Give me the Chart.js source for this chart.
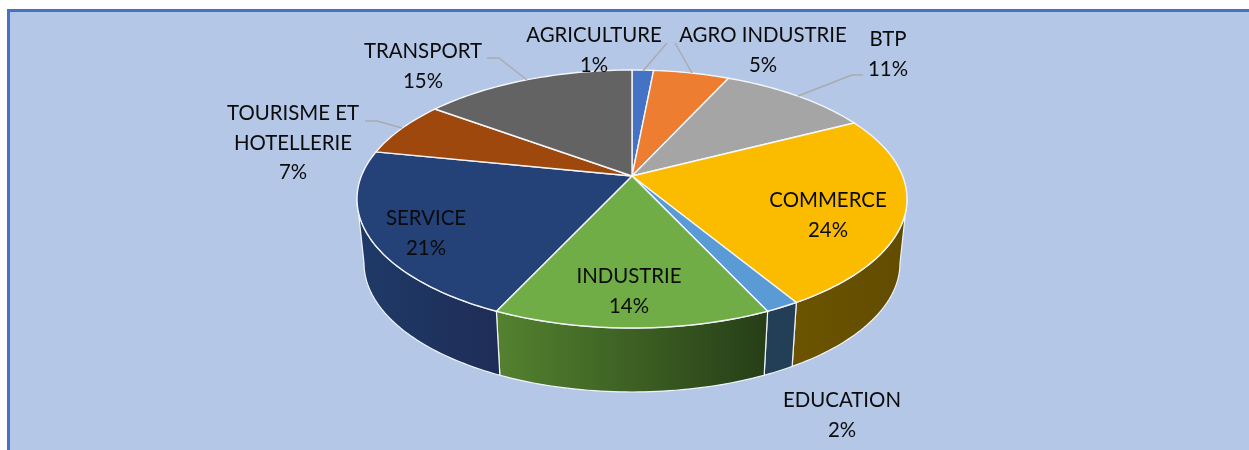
<!DOCTYPE html>
<html>
<head>
<meta charset="utf-8">
<style>
html,body{margin:0;padding:0;background:#fff;width:1249px;height:450px;overflow:hidden}
#frame{position:absolute;left:7px;top:9px;width:1242px;height:441px;box-sizing:border-box;background:#b4c7e7;border-left:3px solid #4472c4;border-top:3px solid #4472c4}
canvas{position:absolute;left:0;top:0}
</style>
<script src="https://cdn.jsdelivr.net/npm/chart.js@4"></script>
</head>
<body>
<div id="frame"></div>
<canvas id="c" width="1249" height="450"></canvas>
<script>
const categories = ['AGRICULTURE','AGRO INDUSTRIE','BTP','COMMERCE','EDUCATION','INDUSTRIE','SERVICE','TOURISME ET\nHOTELLERIE','TRANSPORT'];
const sliceValues = [1.5,5.3,10.6,24,1.7,13.8,21.3,6.9,14.9];
const shownPercents = [1,5,11,24,2,14,21,7,15];

const topColors = ['#4472c4','#ed7d31','#a5a5a5','#fbbc00','#5b9bd5','#70ad47','#244178','#9e480e','#636363'];
const wallFrom  = ['#2f5090','#a8571f','#737373','#6b5300','#233f57','#54822f','#1f3a68','#6e320a','#454545'];
const wallTo    = ['#2f5090','#a8571f','#737373','#624c00','#233f57','#263e17','#1e2d57','#6e320a','#454545'];

// label centres, one per category
const labelX = [594,763,888,828,842,629,426,293,423];
const labelY = [35.5,35.5,39.5,200.5,400.5,276.5,218.5,113.5,51.5];
const leaders = [
  [[667,43],[643,71]],
  [[675,43],[692,73]],
  [[863,75],[852,75],[798,96]],
  null,null,null,null,
  [[365,121],[377,121],[402,128]],
  [[487,58],[499,58],[527,80]]
];

// view of the tilted disc
const ASPECT = 275/129, APEX = -23/129, DEPTH = 64, BOTTOM_RX = 268;
const K = Math.sqrt(1-APEX*APEX);
const FRONT_FROM = Math.asin(-APEX), FRONT_TO = Math.PI-FRONT_FROM;
function project(angle, cx, cy, rx, ry){
  const a = Math.cos(angle), b = Math.sin(angle), d = 1 + b*APEX;
  return [cx + rx*a*K/d, cy + ry*(b+APEX)/d];
}
function rimPath(ctx, from, to, cx, cy, rx, ry, move){
  const n = Math.max(2, Math.ceil(Math.abs(to-from)/0.02));
  for(let i=0;i<=n;i++){
    const p = project(from+(to-from)*i/n, cx, cy, rx, ry);
    if(i===0 && move) ctx.moveTo(p[0],p[1]); else ctx.lineTo(p[0],p[1]);
  }
}

// every slice keeps the angles the pie controller computed; it is only seen in perspective
Chart.ArcElement.prototype.draw = function(ctx){
  const {x,y,startAngle,endAngle,outerRadius} = this.getProps(['x','y','startAngle','endAngle','outerRadius']);
  const rx = outerRadius*ASPECT;
  const apex = [x, y + outerRadius*APEX];
  ctx.save();
  ctx.beginPath();
  ctx.moveTo(apex[0],apex[1]);
  rimPath(ctx,startAngle,endAngle,x,y,rx,outerRadius,false);
  ctx.closePath();
  ctx.fillStyle = this.options.backgroundColor;
  ctx.fill();
  ctx.lineJoin = 'round';
  ctx.lineWidth = 1.4;
  ctx.strokeStyle = '#f4f6fa';
  ctx.stroke();
  ctx.restore();
};

const sideWalls = {
  id:'sideWalls',
  beforeDatasetsDraw(chart){
    const ctx = chart.ctx;
    chart.getDatasetMeta(0).data.forEach((arc,i)=>{
      const {x,y,outerRadius} = arc;
      const from = Math.max(arc.startAngle,FRONT_FROM), to = Math.min(arc.endAngle,FRONT_TO);
      if(from>=to) return;
      const rx = outerRadius*ASPECT;
      const p0 = project(from,x,y,rx,outerRadius), p1 = project(to,x,y,rx,outerRadius);
      const g = ctx.createLinearGradient(Math.min(p0[0],p1[0]),0,Math.max(p0[0],p1[0]),0);
      g.addColorStop(0,wallFrom[i]); g.addColorStop(1,wallTo[i]);
      ctx.beginPath();
      rimPath(ctx,from,to,x,y,rx,outerRadius,true);
      rimPath(ctx,to,from,x,y+DEPTH,BOTTOM_RX,outerRadius,false);
      ctx.closePath();
      ctx.fillStyle = g;
      ctx.fill();
      ctx.lineWidth = 1.2;
      ctx.lineJoin = 'round';
      ctx.strokeStyle = '#f0f3f8';
      ctx.stroke();
    });
  }
};

const outsideText = {
  id:'outsideText',
  afterDraw(chart){
    const ctx = chart.ctx;
    ctx.save();
    ctx.strokeStyle = '#a9aaac';
    ctx.lineWidth = 1.4;
    leaders.forEach(l=>{
      if(!l) return;
      ctx.beginPath();
      l.forEach((p,j)=> j? ctx.lineTo(p[0],p[1]) : ctx.moveTo(p[0],p[1]));
      ctx.stroke();
    });
    ctx.font = '400 20.4px Lato';
    ctx.fillStyle = '#0b0b0b';
    ctx.textAlign = 'center';
    ctx.textBaseline = 'middle';
    categories.forEach((c,i)=>{
      const lines = c.split('\n').concat(shownPercents[i]+'%');
      lines.forEach((t,j)=> ctx.fillText(t,labelX[i],labelY[i]+j*29.6));
    });
    ctx.restore();
  }
};

new Chart(document.getElementById('c'),{
  type:'pie',
  data:{labels:categories,datasets:[{data:sliceValues,backgroundColor:topColors,borderWidth:0}]},
  options:{
    responsive:false,
    animation:false,
    layout:{padding:{left:15,right:0,top:70,bottom:122}},
    plugins:{legend:{display:false},tooltip:{enabled:false},title:{display:false}}
  },
  plugins:[sideWalls,outsideText]
});
</script>
</body>
</html>
